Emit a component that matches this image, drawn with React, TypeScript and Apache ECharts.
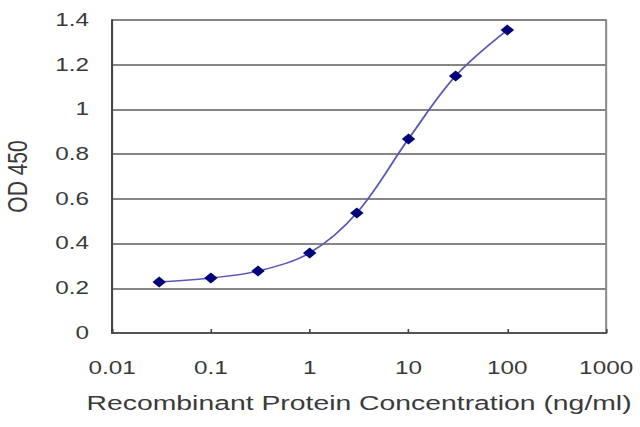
import React, { useEffect, useRef } from "react";
import * as echarts from "echarts";

const concentrations = [0.03, 0.1, 0.3, 1, 3, 10, 30, 100];
const odValues = [0.228, 0.246, 0.277, 0.358, 0.537, 0.868, 1.15, 1.355];
const xAxisTitle = "Recombinant Protein Concentration (ng/ml)";
const yAxisTitle = "OD 450";

const STRETCH = 1.35;
const W = 474;
const H = 427;

export default function App() {
  const ref = useRef<HTMLDivElement>(null);
  useEffect(() => {
    if (!ref.current) return;
    const chart = echarts.init(ref.current, undefined, { renderer: "svg" });
    const font = "Liberation Sans, Arial, sans-serif";
    const textColor = "#3a3a3a";
    chart.setOption({
      animation: false,
      backgroundColor: "#ffffff",
      grid: {
        left: 83,
        right: 25,
        top: 20,
        bottom: 94,
        containLabel: false,
        outerBoundsMode: "none",
        show: true,
        borderColor: "#8a8a8a",
        borderWidth: 1.5,
      },
      xAxis: {
        type: "log",
        logBase: 10,
        min: 0.01,
        max: 1000,
        name: xAxisTitle,
        nameLocation: "middle",
        nameGap: 59,
        nameTextStyle: { fontFamily: font, fontSize: 21, color: textColor },
        axisLine: { show: true, lineStyle: { color: "#444", width: 1.5 } },
        axisTick: { show: true, inside: true, length: 4, lineStyle: { color: "#444", width: 1.2 } },
        axisLabel: {
          fontFamily: font,
          fontSize: 18,
          color: textColor,
          margin: 26,
          formatter: (v: number) => String(v),
        },
        splitLine: { show: false },
        minorTick: { show: false },
      },
      yAxis: {
        type: "value",
        min: 0,
        max: 1.4,
        interval: 0.2,
        name: yAxisTitle,
        nameLocation: "middle",
        nameGap: 60,
        nameTextStyle: { fontFamily: font, fontSize: 21, color: textColor },
        axisLine: { show: true, lineStyle: { color: "#444", width: 1.5 } },
        axisTick: { show: false },
        axisLabel: {
          fontFamily: font,
          fontSize: 18,
          color: textColor,
          margin: 17,
          formatter: (v: number) => String(Math.round(v * 10) / 10),
        },
        splitLine: { show: true, lineStyle: { color: "#858585", width: 2 } },
      },
      series: [
        {
          type: "line",
          data: concentrations.map((c, i) => [c, odValues[i]]),
          smooth: 0.35,
          symbol: "diamond",
          symbolSize: [10, 11],
          lineStyle: { color: "#5a5ab4", width: 1.5 },
          itemStyle: { color: "#00007a" },
        },
      ],
    });
    return () => chart.dispose();
  }, []);
  return (
    <div
      ref={ref}
      style={{
        position: "absolute",
        left: 0,
        top: 0,
        width: W,
        height: H,
        transform: `scaleX(${STRETCH})`,
        transformOrigin: "0 0",
      }}
    />
  );
}
